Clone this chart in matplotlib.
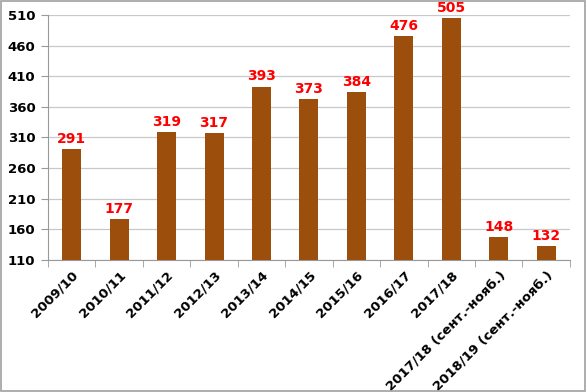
import matplotlib
matplotlib.use("Agg")
import matplotlib.pyplot as plt
from matplotlib.patches import Rectangle

categories = ["2009/10", "2010/11", "2011/12", "2012/13", "2013/14", "2014/15",
              "2015/16", "2016/17", "2017/18", "2017/18 (сент.-нояб.)", "2018/19 (сент.-нояб.)"]
values = [291, 177, 319, 317, 393, 373, 384, 476, 505, 148, 132]
yticks = [110, 160, 210, 260, 310, 360, 410, 460, 510]

plt.rcParams['font.family'] = ['DejaVu Sans']
fig = plt.figure(figsize=(5.87, 3.92), dpi=100)
ax = fig.add_axes([0.0818, 0.337, 0.889, 0.625])

x = list(range(len(categories)))
ax.bar(x, values, width=0.4, color="#9C4F0C", bottom=0, zorder=3)
ax.set_ylim(110, 510)
ax.set_xlim(-0.5, len(categories) - 0.5)
ax.set_yticks(yticks)
ax.set_yticklabels([str(t) for t in yticks], fontsize=9.5, fontweight='bold')
ax.yaxis.grid(True, color="#C8C8C8", linewidth=0.9, zorder=0)
ax.set_xticks(x)
ax.set_xticklabels(categories, rotation=45, ha='right', rotation_mode='anchor',
                   fontsize=9.5, fontweight='bold')
ax.tick_params(axis='x', length=0, pad=6)
ax.set_xticks([i + 0.5 for i in range(-1, len(categories))], minor=True)
ax.tick_params(axis='x', which='minor', length=5, color="#999999")
ax.tick_params(axis='y', length=5, color="#999999", pad=4)
for s in ['top', 'right']:
    ax.spines[s].set_visible(False)
ax.spines['left'].set_color("#999999")
ax.spines['bottom'].set_color("#999999")

for xi, v in zip(x, values):
    ax.text(xi, v + 5, str(v), ha='center', va='bottom', color='red',
            fontsize=10, fontweight='bold', zorder=4)

fig.patches.append(Rectangle((0.002, 0.002), 0.995, 0.995, transform=fig.transFigure,
                             fill=False, edgecolor="#A0A0A0", linewidth=1.2))
fig.savefig("out.png", dpi=100)
